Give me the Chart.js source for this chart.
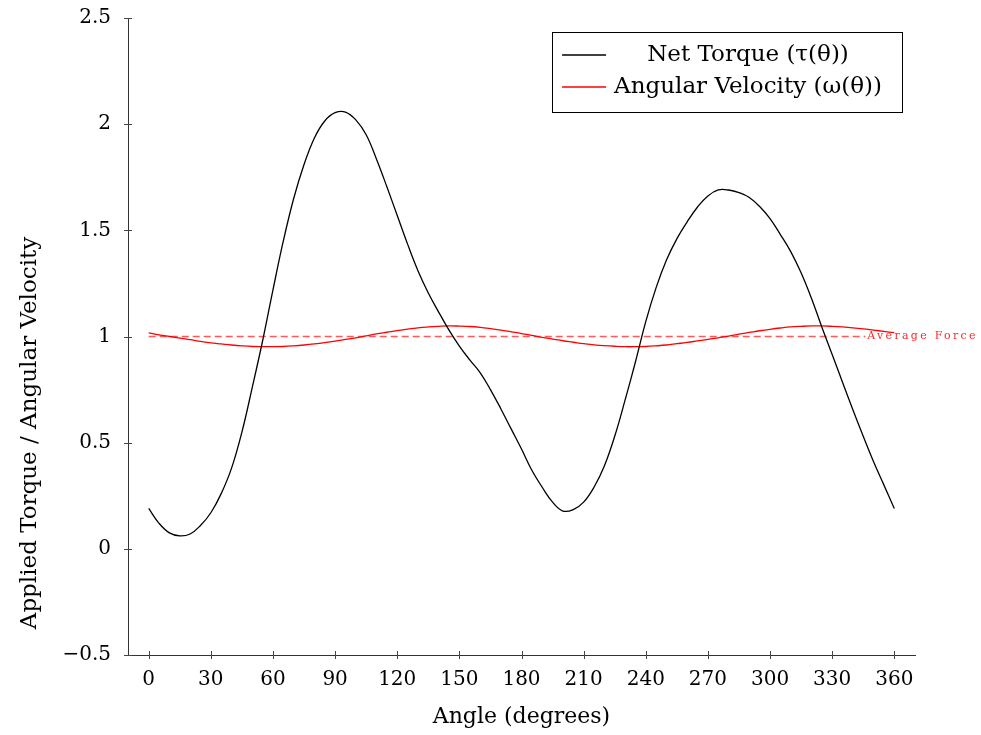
<!DOCTYPE html>
<html lang="en">
<head>
    <meta charset="UTF-8">
    <title>Net Torque and Angular Velocity</title>
    <script src="https://cdn.jsdelivr.net/npm/chart.js"></script>
    <style>
        html, body {
            margin: 0;
            padding: 0;
            background: #fff;
        }
        #chart {
            display: block;
        }
    </style>
</head>
<body>
    <canvas id="chart" width="981" height="735"></canvas>

    <script>
        // values, every 5 degrees
        const angles = [0, 5, 10, 15, 20, 25, 30, 35, 40, 45, 50, 55, 60, 65, 70, 75, 80, 85, 90,
                        95, 100, 105, 110, 115, 120, 125, 130, 135, 140, 145, 150, 155, 160, 165, 170, 175, 180,
                        185, 190, 195, 200, 205, 210, 215, 220, 225, 230, 235, 240, 245, 250, 255, 260, 265, 270,
                        275, 280, 285, 290, 295, 300, 305, 310, 315, 320, 325, 330, 335, 340, 345, 350, 355, 360];
        const torque = [0.19, 0.12, 0.075, 0.061, 0.07, 0.11, 0.17, 0.26, 0.38, 0.55, 0.76, 0.98, 1.22, 1.45, 1.65, 1.81, 1.935, 2.015, 2.054,
                        2.057, 2.02, 1.95, 1.835, 1.705, 1.57, 1.435, 1.31, 1.205, 1.115, 1.03, 0.955, 0.89, 0.83, 0.75, 0.66, 0.565, 0.47,
                        0.37, 0.29, 0.22, 0.178, 0.185, 0.22, 0.29, 0.39, 0.53, 0.70, 0.88, 1.07, 1.23, 1.36, 1.46, 1.54, 1.61, 1.662,
                        1.69, 1.69, 1.678, 1.655, 1.612, 1.555, 1.48, 1.40, 1.30, 1.18, 1.045, 0.915, 0.785, 0.655, 0.53, 0.41, 0.30, 0.19];
        const omega = [1.017, 1.008, 1.000, 0.992, 0.985, 0.977, 0.970, 0.965, 0.960, 0.956, 0.953, 0.952, 0.952, 0.953, 0.956, 0.960, 0.965, 0.971, 0.978,
                       0.986, 0.994, 1.003, 1.012, 1.020, 1.028, 1.035, 1.041, 1.045, 1.048, 1.050, 1.049, 1.047, 1.043, 1.037, 1.030, 1.022, 1.014,
                       1.005, 0.996, 0.988, 0.980, 0.973, 0.966, 0.961, 0.957, 0.954, 0.952, 0.952, 0.953, 0.956, 0.960, 0.966, 0.972, 0.979, 0.986,
                       0.994, 1.002, 1.011, 1.019, 1.027, 1.034, 1.040, 1.045, 1.048, 1.050, 1.050, 1.048, 1.045, 1.041, 1.036, 1.030, 1.024, 1.018];
        const avgAngles = [0, 346];
        const avgForce = [1, 1];
        const seriesNames = ['Net Torque (τ(θ))', 'Angular Velocity (ω(θ))'];
        const seriesColors = ['#000', '#ff0000'];
        const avgLabel = 'Average Force';
        const xTicks = [0, 30, 60, 90, 120, 150, 180, 210, 240, 270, 300, 330, 360];
        const yTicks = [-0.5, 0, 0.5, 1, 1.5, 2, 2.5];
        const yTickLabels = ['−0.5', '0', '0.5', '1', '1.5', '2', '2.5'];

        const FONT = "'DejaVu Serif', serif";
        const toXY = (xs, ys) => xs.map((x, i) => ({x: x, y: ys[i]}));

        // tick marks crossing the axis lines, like pgfplots
        const tickMarks = {
            id: 'tickMarks',
            afterDraw(chart) {
                const ctx = chart.ctx;
                const xs = chart.scales.x, ys = chart.scales.y;
                const area = chart.chartArea;
                ctx.save();
                ctx.strokeStyle = '#444';
                ctx.lineWidth = 1;
                ctx.beginPath();
                xTicks.forEach(v => {
                    const px = Math.round(xs.getPixelForValue(v)) + 0.5;
                    ctx.moveTo(px, area.bottom - 4);
                    ctx.lineTo(px, area.bottom + 4);
                });
                yTicks.forEach(v => {
                    const py = Math.round(ys.getPixelForValue(v)) + 0.5;
                    ctx.moveTo(area.left - 4, py);
                    ctx.lineTo(area.left + 4, py);
                });
                ctx.stroke();

                // y axis title
                ctx.fillStyle = '#000';
                ctx.font = '23px ' + FONT;
                ctx.textAlign = 'center';
                ctx.textBaseline = 'middle';
                ctx.translate(30, 433);
                ctx.rotate(-Math.PI / 2);
                ctx.fillText('Applied Torque / Angular Velocity', 0, 0);
                ctx.restore();

                // label at the end of the dashed line
                ctx.save();
                ctx.fillStyle = 'rgba(255,0,0,0.85)';
                ctx.font = '11px ' + FONT;
                ctx.letterSpacing = '2.3px';
                ctx.textAlign = 'left';
                ctx.textBaseline = 'middle';
                ctx.fillText(avgLabel, xs.getPixelForValue(avgAngles[1]) + 2, ys.getPixelForValue(avgForce[1]));
                ctx.restore();

                // legend box
                ctx.save();
                ctx.font = '23px ' + FONT;
                const textW = Math.max(...seriesNames.map(s => ctx.measureText(s).width));
                const right = area.right - 13;
                const top = area.top + 14;
                const rowH = 32;
                const left = right - 20 - textW - 8 - 44 - 10;
                const boxH = rowH * 2 + 16;
                ctx.fillStyle = '#fff';
                ctx.fillRect(left, top, right - left, boxH);
                ctx.strokeStyle = '#000';
                ctx.lineWidth = 1;
                ctx.strokeRect(Math.round(left) + 0.5, Math.round(top) + 0.5, Math.round(right - left), boxH);
                const colMid = right - 20 - textW / 2;
                seriesNames.forEach((name, i) => {
                    const y = top + 23 + i * rowH;
                    ctx.strokeStyle = seriesColors[i];
                    ctx.lineWidth = 1.3;
                    ctx.beginPath();
                    ctx.moveTo(left + 10, y);
                    ctx.lineTo(left + 54, y);
                    ctx.stroke();
                    ctx.fillStyle = '#000';
                    ctx.textAlign = 'center';
                    ctx.textBaseline = 'middle';
                    ctx.fillText(name, colMid, y);
                });
                ctx.restore();
            }
        };

        new Chart(document.getElementById('chart'), {
            type: 'line',
            data: {
                datasets: [
                    {
                        label: seriesNames[0],
                        data: toXY(angles, torque),
                        borderColor: seriesColors[0],
                        borderWidth: 1.3,
                        pointRadius: 0,
                        tension: 0.4,
                        fill: false
                    },
                    {
                        label: seriesNames[1],
                        data: toXY(angles, omega),
                        borderColor: seriesColors[1],
                        borderWidth: 1.3,
                        pointRadius: 0,
                        tension: 0.4,
                        fill: false
                    },
                    {
                        label: avgLabel,
                        data: toXY(avgAngles, avgForce),
                        borderColor: 'rgba(255,0,0,0.65)',
                        borderWidth: 1.7,
                        borderDash: [7, 4],
                        pointRadius: 0,
                        fill: false
                    }
                ]
            },
            options: {
                responsive: false,
                animation: false,
                layout: {
                    padding: {left: 0, top: 18, right: 66, bottom: 0}
                },
                plugins: {
                    legend: {display: false},
                    tooltip: {enabled: false}
                },
                scales: {
                    x: {
                        type: 'linear',
                        min: -10,
                        max: 370,
                        afterBuildTicks: s => { s.ticks = xTicks.map(v => ({value: v})); },
                        afterFit: s => { s.height = 80; s.paddingLeft = 0; s.paddingRight = 0; },
                        grid: {display: false, drawTicks: false},
                        border: {display: true, color: '#333', width: 1},
                        ticks: {
                            color: '#000',
                            padding: 13,
                            maxRotation: 0,
                            font: {family: FONT, size: 20}
                        },
                        title: {
                            display: true,
                            text: 'Angle (degrees)',
                            color: '#000',
                            font: {family: FONT, size: 22},
                            padding: {top: 0, bottom: 5}
                        }
                    },
                    y: {
                        type: 'linear',
                        min: -0.5,
                        max: 2.5,
                        afterBuildTicks: s => { s.ticks = yTicks.map(v => ({value: v})); },
                        afterFit: s => { s.width = 128; s.paddingTop = 0; s.paddingBottom = 0; },
                        grid: {display: false, drawTicks: false},
                        border: {display: true, color: '#333', width: 1},
                        ticks: {
                            color: '#000',
                            padding: 17,
                            font: {family: FONT, size: 20},
                            callback: v => yTickLabels[yTicks.indexOf(v)]
                        }
                    }
                }
            },
            plugins: [tickMarks]
        });
    </script>
</body>
</html>
